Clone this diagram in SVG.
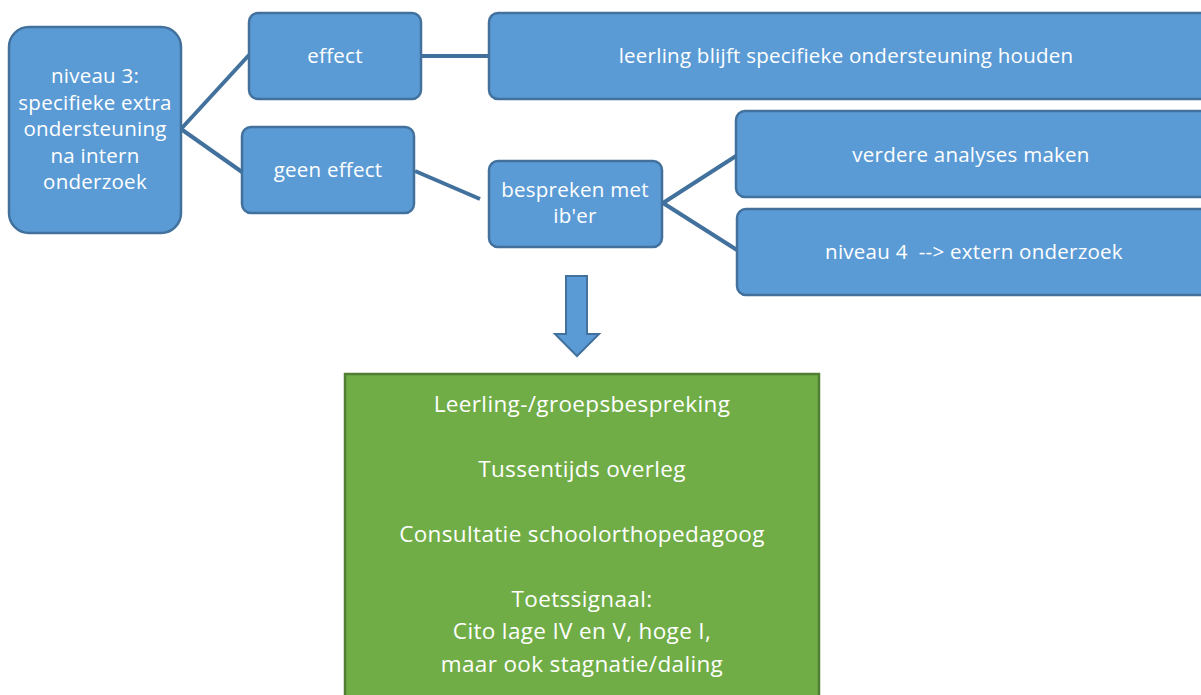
<svg xmlns="http://www.w3.org/2000/svg" width="1201" height="695" viewBox="0 0 1201 695">
<style>
.box{fill:#5B9BD5;stroke:#41719C;stroke-width:2.5}
.green{fill:#70AD47;stroke:#507E32;stroke-width:2.5}
.t{font-family:"Open Sans","Noto Sans",sans-serif;font-size:20.5px;letter-spacing:0.25px;fill:#ffffff;text-anchor:middle}
.g{font-size:22.5px;letter-spacing:0.35px}
.c{stroke:#41719C;stroke-width:4;fill:none}
</style>
<rect width="1201" height="695" fill="#ffffff"/>
<g id="connectors">
<line class="c" x1="181" y1="129" x2="249" y2="55"/>
<line class="c" x1="181" y1="129" x2="242" y2="172"/>
<line class="c" x1="421" y1="56" x2="489" y2="56"/>
<line class="c" x1="415" y1="171" x2="480" y2="199"/>
<line class="c" x1="663" y1="203" x2="736" y2="156"/>
<line class="c" x1="663" y1="203" x2="737" y2="250"/>
<path id="down-arrow" d="M566,276 H587 V334 H599 L577,356 L555,334 H566 Z" fill="#5B9BD5" stroke="#41719C" stroke-width="2"/>
</g>
<g id="niveau3">
<rect class="box" x="9" y="27" width="172" height="206" rx="20"/>
<text class="t" x="95" y="83">niveau 3:</text>
<text class="t" x="95" y="110">specifieke extra</text>
<text class="t" x="95" y="136">ondersteuning</text>
<text class="t" x="95" y="163">na intern</text>
<text class="t" x="95" y="189">onderzoek</text>
</g>
<g id="effect">
<rect class="box" x="249" y="13" width="172" height="86" rx="9"/>
<text class="t" x="335" y="63">effect</text>
</g>
<g id="geen-effect">
<rect class="box" x="242" y="127" width="172" height="86" rx="9"/>
<text class="t" x="328" y="177">geen effect</text>
</g>
<g id="leerling-blijft">
<rect class="box" x="489" y="13" width="720" height="86" rx="9"/>
<text class="t" x="846" y="63">leerling blijft specifieke ondersteuning houden</text>
</g>
<g id="bespreken">
<rect class="box" x="489" y="161" width="173" height="86" rx="9"/>
<text class="t" x="575" y="197">bespreken met</text>
<text class="t" x="575" y="223">ib'er</text>
</g>
<g id="verdere-analyses">
<rect class="box" x="736" y="111" width="475" height="86" rx="9"/>
<text class="t" x="971" y="162">verdere analyses maken</text>
</g>
<g id="niveau4">
<rect class="box" x="737" y="209" width="475" height="86" rx="9"/>
<text class="t" x="974" y="259" xml:space="preserve">niveau 4  --&gt; extern onderzoek</text>
</g>
<g id="overleg">
<rect class="green" x="345" y="374" width="474" height="340"/>
<text class="t g" x="582" y="412">Leerling-/groepsbespreking</text>
<text class="t g" x="582" y="477">Tussentijds overleg</text>
<text class="t g" x="582" y="542">Consultatie schoolorthopedagoog</text>
<text class="t g" x="582" y="607">Toetssignaal:</text>
<text class="t g" x="582" y="639">Cito lage IV en V, hoge I,</text>
<text class="t g" x="582" y="672">maar ook stagnatie/daling</text>
</g>
</svg>
